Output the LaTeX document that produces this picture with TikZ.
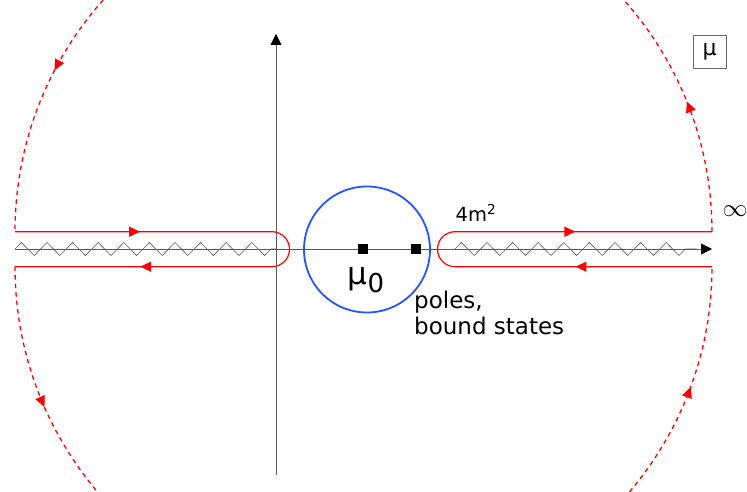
\documentclass[tikz,border=0pt]{standalone}
\usepackage{fontspec}
\setmainfont{DejaVu Sans}
\usetikzlibrary{arrows.meta,decorations.markings,decorations.pathmorphing}
\definecolor{ringblue}{RGB}{35,85,255}
\definecolor{contred}{RGB}{255,0,0}

\begin{document}
\begin{tikzpicture}[
  x=1pt,y=1pt,
  ax/.style={draw=black!65,line width=0.9pt,-{Triangle[length=11pt,width=11pt,black]}},
  cut/.style={draw=black!65,line width=0.6pt,decorate,
    decoration={zigzag,segment length=25.6pt,amplitude=6.5pt}},
  cont/.style 2 args={draw=contred,line width=1.2pt,postaction={decorate,
    decoration={markings,
      mark=at position #1 with {\arrow{Triangle[length=11pt,width=10pt]}},
      mark=at position #2 with {\arrow{Triangle[length=11pt,width=10pt]}}}}},
  far/.style 2 args={cont={#1}{#2},line width=1.3pt,dash pattern=on 4.5pt off 4pt},
  pole/.style={fill=black,minimum size=10pt,inner sep=0pt},
]
\clip (0,0) rectangle (747,491);

% contour at infinity
\draw[far={0.122}{0.847}] (712,259.3) arc[start angle=0,end angle=180,radius=348.5];
\draw[far={0.132}{0.888}] (15,224.3) arc[start angle=180,end angle=360,radius=348.5];

% cuts and axes
\draw[cut] (15,242) -- (276,242);
\draw[cut] (455,242) -- (697,242);
\draw[ax] (15,242) -- (712,242);
\draw[ax] (276,16) -- (276,457);

% keyhole pieces
\draw[cont={0.22}{0.78}] (15,259.3) -- (272,259.3)
  arc[start angle=90,end angle=-90,radius=17.5] -- (15,224.3);
\draw[cont={0.24}{0.76}] (712,224.3) -- (455,224.3)
  arc[start angle=270,end angle=90,radius=17.5] -- (712,259.3);

\node[draw=ringblue,circle,line width=1.8pt,minimum size=126pt,inner sep=0pt] (ring) at (367,241.5) {};
\node[pole] (p0) at (363,242) {};
\node[pole] (p1) at (416,242) {};

\node[inner sep=0pt,font=\fontsize{31}{31}\selectfont] (mu0) at (366,211)
  {μ\raisebox{-8pt}{\fontsize{26}{26}\selectfont 0}};
\node[anchor=north west,inner sep=0pt,align=left,font=\fontsize{23}{26}\selectfont] (poles) at (414,200)
  {poles,\\bound states};
\node[inner sep=0pt,font=\fontsize{19.5}{21}\selectfont] (thr) at (476,278) {4m\textsuperscript{2}};
\node[inner sep=0pt,font=\fontsize{26}{26}\selectfont] (inf) at (735,280) {$\infty$};
\node[draw=black!60,line width=0.8pt,minimum width=33pt,minimum height=33pt,inner sep=0pt,
  font=\fontsize{22}{24}\selectfont] (mubox) at (709.5,439.5) {μ};
\end{tikzpicture}
\end{document}
